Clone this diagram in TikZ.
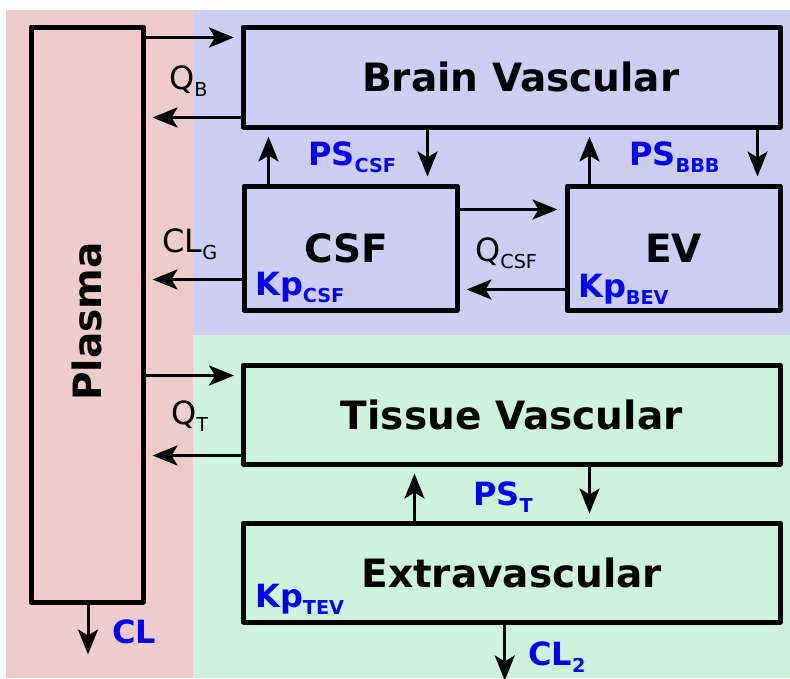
\documentclass[tikz,border=0pt]{standalone}
\usepackage{fontspec}
\setmainfont{DejaVu Sans}
\usetikzlibrary{arrows.meta,calc}
\definecolor{cplasma}{RGB}{238,204,204}
\definecolor{cbrain}{RGB}{205,206,245}
\definecolor{ctissue}{RGB}{205,243,222}
\definecolor{cpar}{RGB}{0,0,255}
\newcommand{\lsub}[1]{\raisebox{-0.22em}{\scalebox{0.6}{#1}}}

\begin{document}
\begin{tikzpicture}[
  x=1pt,y=-1pt,
  comp/.style={draw,line width=5pt,line join=round,inner sep=0pt,minimum width=536.5pt,minimum height=100pt,font=\fontsize{39}{39}\selectfont\bfseries},
  small/.style={comp,minimum width=213pt,minimum height=124pt},
  flow/.style={-{Stealth[length=25pt,width=20pt,inset=6pt]},line width=3pt,shorten >=7pt},
  rate/.style={anchor=base west,inner sep=0pt,font=\fontsize{32}{32}\selectfont},
  par/.style={anchor=base west,inner sep=0pt,text=cpar,font=\fontsize{32}{32}\selectfont\bfseries},
]
\useasboundingbox (0,0) rectangle (790,678);
% compartments behind the boxes
\fill[cplasma] (6,10) rectangle (193,678);
\fill[cbrain]  (193,10) rectangle (790,335);
\fill[ctissue] (193,335) rectangle (790,678);

\node[comp,minimum width=112pt,minimum height=575pt,label={[yshift=-7pt,rotate=90,font=\fontsize{39}{39}\selectfont\bfseries]center:Plasma}] (plasma) at (87,314.5) {};
\node[comp]  (brain)  at (511.75,77)    {\hspace*{18pt}Brain Vascular};
\node[small] (csf)    at (350.5,248)    {CSF\hspace*{8pt}};
\node[small] (ev)     at (673.5,248)    {EV};
\node[comp,minimum height=99pt] (tissue) at (511.75,414.5) {Tissue Vascular};
\node[comp,minimum height=99pt] (extra)  at (511.75,572.5) {Extravascular};

% plasma <-> brain
\coordinate (bin)  at ($(brain.north west)+(0,13)$);
\coordinate (bout) at ($(brain.south west)+(0,-12)$);
\draw[flow] (plasma.east |- bin) -- (bin);
\draw[flow] (bout) -- (plasma.east |- bout);
\node[rate] (qb) at (169,89) {Q\lsub{B}};

% brain <-> csf, ev
\coordinate (cu) at ($(csf.north west)+(27,0)$);
\coordinate (cd) at ($(csf.north east)+(-32,0)$);
\draw[flow] (cu) -- (brain.south -| cu);
\draw[flow] (brain.south -| cd) -- (cd);
\node[par] (pscsf) at (308,165) {PS\lsub{CSF}};
\coordinate (eu) at ($(ev.north west)+(25,0)$);
\coordinate (ed) at ($(ev.north east)+(-25,0)$);
\draw[flow] (eu) -- (brain.south -| eu);
\draw[flow] (brain.south -| ed) -- (ed);
\node[par] (psbbb) at (629,165) {PS\lsub{BBB}};

% csf <-> ev, csf -> plasma
\coordinate (cf) at ($(csf.north east)+(0,26)$);
\coordinate (cb) at ($(ev.south west)+(0,-23)$);
\draw[flow] (cf) -- (ev.west |- cf);
\draw[flow] (cb) -- (csf.east |- cb);
\node[rate] (qcsf) at (475,261) {Q\lsub{CSF}};
\coordinate (gout) at ($(csf.south west)+(0,-33)$);
\draw[flow] (gout) -- (plasma.east |- gout);
\node[rate] (clg) at (162,252) {CL\lsub{G}};
\node[par] (kpcsf) at (255,295) {Kp\lsub{CSF}};
\node[par] (kpbev) at (578,297) {Kp\lsub{BEV}};

% plasma <-> tissue
\coordinate (tin)  at ($(tissue.north west)+(0,13)$);
\coordinate (tout) at ($(tissue.south west)+(0,-11)$);
\draw[flow] (plasma.east |- tin) -- (tin);
\draw[flow] (tout) -- (plasma.east |- tout);
\node[rate] (qt) at (171,424) {Q\lsub{T}};

% tissue <-> extravascular
\coordinate (xu) at ($(extra.north west)+(173.5,0)$);
\coordinate (xd) at ($(extra.north west)+(348.5,0)$);
\draw[flow] (xu) -- (tissue.south -| xu);
\draw[flow] (tissue.south -| xd) -- (xd);
\node[par] (pst) at (473,505) {PS\lsub{T}};
\node[par] (kptev) at (255,607) {Kp\lsub{TEV}};

% clearances
\coordinate (clend) at ($(plasma.south)+(1,50)$);
\draw[flow,shorten >=0pt] (plasma.south -| clend) -- (clend);
\node[par] (cl) at (112,643) {CL};
\coordinate (xcl) at ($(extra.south)+(-7,56)$);
\draw[flow,shorten >=0pt] (extra.south -| xcl) -- (xcl);
\node[par] (cltwo) at (528,665) {CL\lsub{2}};
\end{tikzpicture}
\end{document}
